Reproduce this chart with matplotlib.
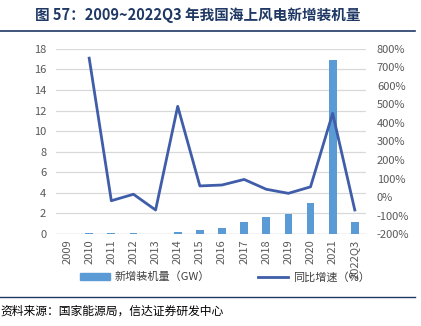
import matplotlib
matplotlib.use("Agg")
import matplotlib.pyplot as plt
from matplotlib.lines import Line2D
from matplotlib.patches import Patch

plt.rcParams['font.family'] = ['Noto Sans CJK SC', 'DejaVu Sans']

years = ["2009", "2010", "2011", "2012", "2013", "2014", "2015", "2016",
         "2017", "2018", "2019", "2020", "2021", "2022Q3"]
capacity = [0.0, 0.1, 0.1, 0.1, 0.0, 0.2, 0.36, 0.59, 1.16, 1.65, 1.98, 3.06, 16.9, 1.2]
growth = [None, 750, -20, 15, -70, 490, 60, 65, 95, 42, 20, 55, 452, -70]

left_ticks = [0, 2, 4, 6, 8, 10, 12, 14, 16, 18]
right_ticks = [-200, -100, 0, 100, 200, 300, 400, 500, 600, 700, 800]

bar_color = "#5B9BD5"
line_color = "#3F5DA8"
tick_color = "#595959"
navy = "#1F3864"

fig = plt.figure(figsize=(4.21, 3.26), dpi=100)
ax = fig.add_axes([0.133, 0.282, 0.736, 0.568])
ax2 = ax.twinx()

x = list(range(len(years)))
ax.bar(x, capacity, width=0.35, color=bar_color, zorder=2)
gx = [i for i, g in zip(x, growth) if g is not None]
gy = [g for g in growth if g is not None]
ax2.plot(gx, gy, color=line_color, lw=2, zorder=3)

ax.set_xlim(-0.5, len(years) - 0.5)
ax.set_ylim(0, 18)
ax.set_yticks(left_ticks)
ax2.set_ylim(-200, 800)
ax2.set_yticks(right_ticks)
ax2.set_yticklabels([f"{v}%" for v in right_ticks])

ax.set_xticks(x)
ax.set_xticklabels(years, rotation=90)
ax.grid(axis='y', color="#D9D9D9", lw=0.9, zorder=0)
ax.set_axisbelow(True)

for a in (ax, ax2):
    for s in ("top", "left", "right", "bottom"):
        a.spines[s].set_visible(False)
    a.tick_params(length=0, labelsize=8, colors=tick_color)
ax.axhline(0, color="#D9D9D9", lw=1, zorder=1)
ax.tick_params(axis='y', pad=7)
ax.tick_params(axis='x', pad=4)
ax2.tick_params(axis='y', pad=8)

leg1 = fig.legend([Patch(color=bar_color)], ["新增装机量（GW）"], loc="center left",
                  bbox_to_anchor=(0.19, 0.150), frameon=False, fontsize=8,
                  handlelength=2.7, handleheight=0.6, handletextpad=0.4,
                  labelcolor="#404040", borderaxespad=0, borderpad=0)
leg2 = fig.legend([Line2D([0], [0], color=line_color, lw=2)], ["同比增速（%）"],
                  loc="center left", bbox_to_anchor=(0.613, 0.150), frameon=False,
                  fontsize=8, handlelength=2.7, handletextpad=0.4,
                  labelcolor="#404040", borderaxespad=0, borderpad=0)

fig.text(0.083, 0.953, "图 57：2009~2022Q3 年我国海上风电新增装机量", fontsize=10.5,
         fontweight="bold", color=navy, va="center", ha="left")
fig.add_artist(Line2D([0.0, 0.985], [0.905, 0.905], color=navy, lw=1.2))
fig.add_artist(Line2D([0.0, 0.985], [0.089, 0.089], color=navy, lw=1.0))
fig.text(0.0, 0.045, "资料来源：国家能源局，信达证券研发中心", fontsize=8.5,
         style="italic", color="black", va="center", ha="left")

fig.savefig("out.png", dpi=100)
